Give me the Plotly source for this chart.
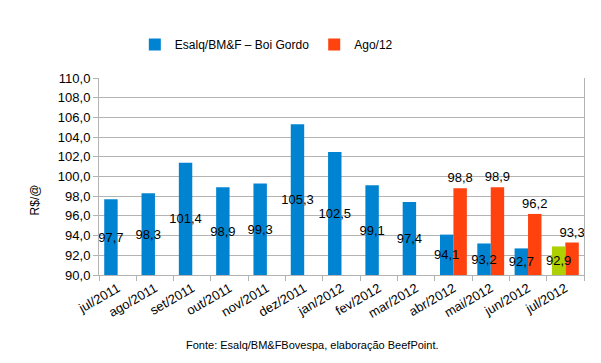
import plotly.graph_objects as go

categories = ["jul/2011", "ago/2011", "set/2011", "out/2011", "nov/2011", "dez/2011",
              "jan/2012", "fev/2012", "mar/2012", "abr/2012", "mai/2012", "jun/2012", "jul/2012"]
boi_gordo = [97.7, 98.3, 101.4, 98.9, 99.3, 105.3, 102.5, 99.1, 97.4, 94.1, 93.2, 92.7, 92.9]
ago12 = [None, None, None, None, None, None, None, None, None, 98.8, 98.9, 96.2, 93.3]
base_value = 90.0

blue = "#0084d1"
orange = "#ff420e"
green = "#aecf00"

def fmt(v):
    return "" if v is None else f"{v:.1f}".replace(".", ",")

blue_colors = [blue] * (len(categories) - 1) + [green]

font_family = "Liberation Sans, Arial, sans-serif"
bar_w = 0.36

fig = go.Figure()
# orange series drawn first so the blue series' labels sit on top
fig.add_trace(go.Bar(
    name="Ago/12", x=categories,
    y=[None if v is None else v - base_value for v in ago12], base=base_value,
    width=bar_w, offset=0,
    marker=dict(color=orange, line=dict(width=0)),
    text=[fmt(v) for v in ago12], textposition="outside", textangle=0,
    textfont=dict(color="black", size=13, family=font_family),
    cliponaxis=False, legendrank=2,
))
fig.add_trace(go.Bar(
    name="Esalq/BM&F – Boi Gordo", x=categories,
    y=[v - base_value for v in boi_gordo], base=base_value,
    width=bar_w, offset=-bar_w,
    marker=dict(color=blue_colors, line=dict(width=0)),
    text=[fmt(v) for v in boi_gordo], textposition="inside",
    insidetextanchor="middle", textangle=0,
    textfont=dict(color="black", size=13, family=font_family),
    legendrank=1,
))

fig.update_layout(
    width=601, height=363,
    margin=dict(l=91, r=25, t=70, b=96),
    paper_bgcolor="white", plot_bgcolor="white",
    barmode="overlay",
    uniformtext=dict(minsize=13, mode="show"),
    font=dict(family=font_family, size=13, color="black"),
    separators=",.",
    showlegend=True,
    legend=dict(orientation="h", x=0.345, xanchor="center", y=1.17, yanchor="middle",
                font=dict(size=12), itemwidth=30),
    xaxis=dict(type="category", tickson="boundaries", ticks="outside", ticklen=5,
               tickcolor="#b3b3b3", showline=True, linecolor="#b3b3b3",
               showgrid=False, tickangle=-30, tickfont=dict(size=13)),
    yaxis=dict(range=[90, 110], dtick=2, tickformat=".1f", ticks="outside", ticklen=5,
               tickcolor="#b3b3b3", showline=True, linecolor="#b3b3b3", mirror=True,
               gridcolor="#b3b3b3", gridwidth=1, tickfont=dict(size=13), zeroline=False),
    annotations=[
        dict(text="R$/@", xref="paper", yref="paper", x=-0.15, y=0.38,
             textangle=-90, showarrow=False, font=dict(size=12)),
        dict(text="Fonte: Esalq/BM&FBovespa, elaboração BeefPoint.", xref="paper",
             yref="paper", x=0.44, y=-0.355, xanchor="center", yanchor="middle",
             showarrow=False, font=dict(size=11)),
    ],
)
fig.write_html("out.html")
